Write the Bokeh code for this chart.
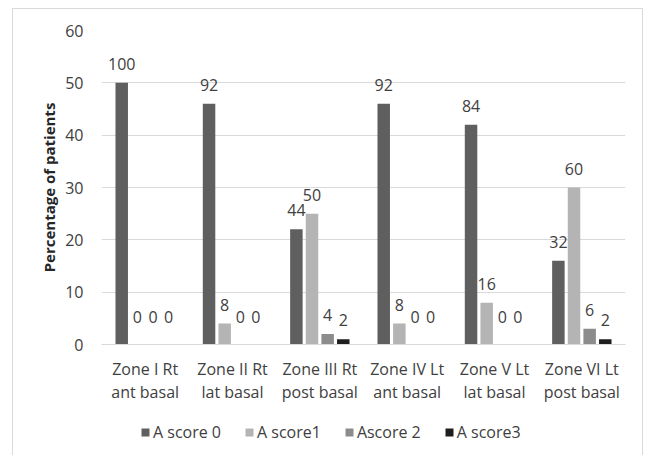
from bokeh.plotting import figure
from bokeh.layouts import column
from bokeh.models import ColumnDataSource, FactorRange, Legend, LegendItem
from bokeh.transform import dodge
from bokeh.core.properties import value
from bokeh.embed import file_html
from bokeh.resources import INLINE

zones = ["Zone I Rt\nant basal", "Zone II Rt\nlat basal", "Zone III Rt\npost basal",
         "Zone IV Lt\nant basal", "Zone V Lt\nlat basal", "Zone VI Lt\npost basal"]
series = ["A score 0", "A score1", "Ascore 2", "A score3"]
# bar heights (as drawn)
a0 = [50, 46, 22, 46, 42, 16]
a1 = [0, 4, 25, 4, 8, 30]
a2 = [0, 0, 2, 0, 0, 3]
a3 = [0, 0, 1, 0, 0, 1]
# data labels (as printed)
l0 = [100, 92, 44, 92, 84, 32]
l1 = [0, 8, 50, 8, 16, 60]
l2 = [0, 0, 4, 0, 0, 6]
l3 = [0, 0, 2, 0, 0, 2]
y_ticks = [0, 10, 20, 30, 40, 50, 60]

colors = ["#5f5f5f", "#b4b4b4", "#8c8c8c", "#1e1e1e"]
offsets = [-0.2685, -0.0895, 0.0895, 0.2685]
bar_w = 0.143
FONT = "Open Sans"
TXT = "#404040"
W = 629

p = figure(x_range=FactorRange(*zones, range_padding=0), y_range=(0, 60),
           width=W, height=405, output_backend="svg", toolbar_location=None,
           min_border_left=88, min_border_right=17, min_border_top=21, min_border_bottom=70)
p.outline_line_color = None
p.background_fill_color = "white"
p.border_fill_color = "white"

# legend strip (its swatches reuse the same data, drawn outside its visible range)
pl = figure(width=W, height=42, output_backend="svg", toolbar_location=None,
            min_border=0, x_range=FactorRange(*zones), y_range=(1000, 1001),
            x_axis_location=None, y_axis_location=None)
pl.grid.visible = False
pl.outline_line_color = None
pl.border_fill_color = "white"
pl.background_fill_color = "white"

items = []
for vals, labs, col, off, name in zip([a0, a1, a2, a3], [l0, l1, l2, l3], colors, offsets, series):
    src = ColumnDataSource(dict(zone=zones, v=vals, lab=[str(x) for x in labs],
                                yo=[-19 if x > 0 else -28 for x in vals]))
    p.vbar(x=dodge("zone", off, range=p.x_range), top="v", width=bar_w, source=src,
           fill_color=col, line_color=None)
    p.text(x=dodge("zone", off, range=p.x_range), y="v", text="lab", source=src,
           y_offset="yo", text_align="center", text_baseline="alphabetic",
           text_font=value(FONT), text_font_size="16px", text_color=TXT)
    r = pl.vbar(x=dodge("zone", off, range=pl.x_range), top="v", width=bar_w, source=src,
                fill_color=col, line_color=None)
    items.append(LegendItem(label=name, renderers=[r]))

p.yaxis.ticker = y_ticks
p.ygrid.grid_line_color = "#d9d9d9"
p.xgrid.grid_line_color = None
p.yaxis.axis_line_color = None
p.yaxis.major_tick_line_color = None
p.yaxis.minor_tick_line_color = None
p.yaxis.major_tick_out = 0
p.yaxis.major_tick_in = 0
p.yaxis.major_label_standoff = 18
p.yaxis.major_label_text_font = FONT
p.yaxis.major_label_text_font_size = "16px"
p.yaxis.major_label_text_color = TXT
p.yaxis.axis_label = "Percentage of patients"
p.yaxis.axis_label_text_font = FONT
p.yaxis.axis_label_text_font_size = "15px"
p.yaxis.axis_label_text_font_style = "bold"
p.yaxis.axis_label_text_color = "#262626"
p.yaxis.axis_label_standoff = 3

p.xaxis.axis_line_color = "#d9d9d9"
p.xaxis.major_tick_line_color = None
p.xaxis.minor_tick_line_color = None
p.xaxis.major_tick_out = 0
p.xaxis.major_tick_in = 0
p.xaxis.major_label_standoff = 13
p.xaxis.major_label_text_font = FONT
p.xaxis.major_label_text_font_size = "16px"
p.xaxis.major_label_text_color = TXT
p.xaxis.major_label_text_line_height = 1.07

legend = Legend(items=items, orientation="horizontal", location=(39, 13),
                label_text_font=FONT, label_text_font_size="16px", label_text_color=TXT,
                glyph_width=10, glyph_height=10, label_standoff=3, spacing=23, label_height=20,
                padding=0, margin=0, border_line_color=None, background_fill_alpha=0)
pl.add_layout(legend)

layout = column(p, pl, spacing=0, margin=(9, 0, 0, 13),
                styles={"box-shadow": "-1px -1px 0 0 #d9d9d9, 1px -1px 0 0 #d9d9d9"})

open("out.html", "w").write(file_html(layout, INLINE))
